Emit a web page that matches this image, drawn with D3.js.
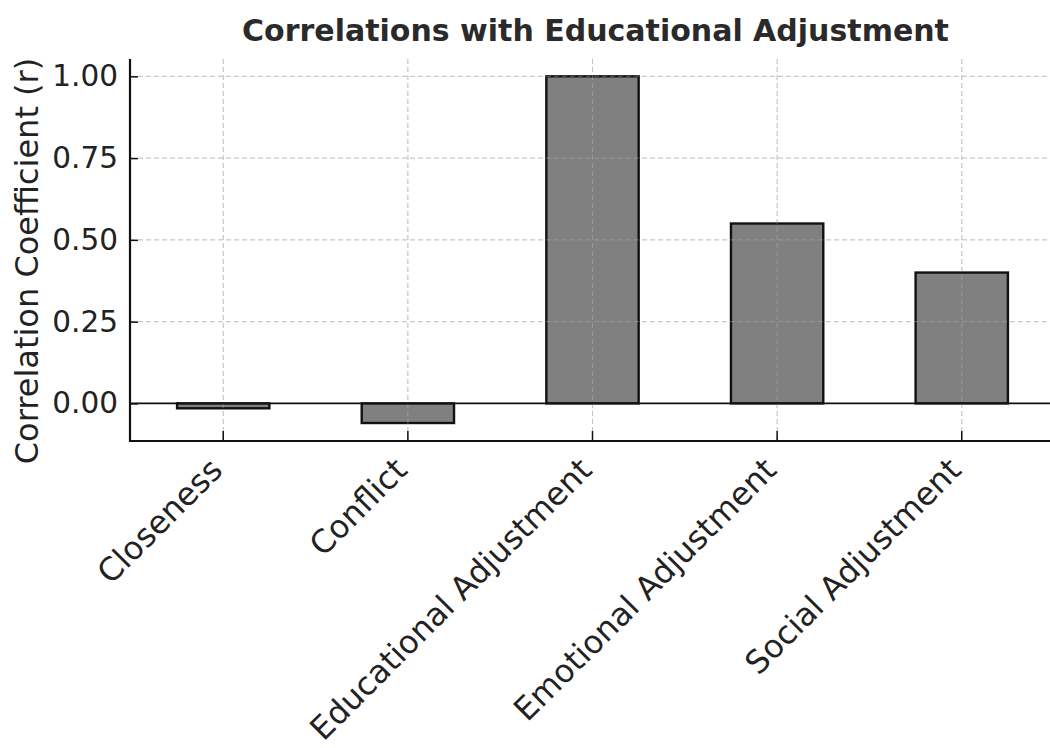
<!DOCTYPE html>
<html>
<head>
<meta charset="utf-8">
<script src="https://cdn.jsdelivr.net/npm/d3@7/dist/d3.min.js"></script>
<style>
  html, body { margin: 0; padding: 0; background: #fff; }
  svg { display: block; font-family: "DejaVu Sans", sans-serif; }
</style>
</head>
<body>
<svg id="chart" width="1050" height="748"></svg>
<script>
const categories = ["Closeness", "Conflict", "Educational Adjustment", "Emotional Adjustment", "Social Adjustment"];
const values = [-0.015, -0.06, 1.0, 0.55, 0.40];
const yTicks = [0, 0.25, 0.5, 0.75, 1.0];
const title = "Correlations with Educational Adjustment";
const yLabel = "Correlation Coefficient (r)";

(function () {
const svg = d3.select("#chart");
const pL = 130, pR = 1055, pT = 59, pB = 441;

const x = d3.scaleBand().domain(categories).range([pL, pR]).paddingInner(0.5).paddingOuter(0.255);
const y = d3.scaleLinear().domain([-0.115, 1.053]).range([pB, pT]);

svg.append("defs").append("clipPath").attr("id", "plotclip")
  .append("rect").attr("x", pL).attr("y", pT).attr("width", pR - pL).attr("height", pB - pT);

const plot = svg.append("g").attr("clip-path", "url(#plotclip)");

// grid
plot.selectAll("line.gy").data(yTicks).join("line")
  .attr("x1", pL).attr("x2", pR)
  .attr("y1", d => y(d)).attr("y2", d => y(d))
  .attr("stroke", "#c8c8c8").attr("stroke-width", 1).attr("stroke-dasharray", "5,3");
plot.selectAll("line.gx").data(categories).join("line")
  .attr("x1", d => x(d) + x.bandwidth() / 2).attr("x2", d => x(d) + x.bandwidth() / 2)
  .attr("y1", pT).attr("y2", pB)
  .attr("stroke", "#c8c8c8").attr("stroke-width", 1).attr("stroke-dasharray", "5,3");

// bars
plot.selectAll("rect.bar").data(values).join("rect")
  .attr("class", "bar")
  .attr("x", (d, i) => x(categories[i]))
  .attr("width", x.bandwidth())
  .attr("y", d => y(Math.max(0, d)))
  .attr("height", d => Math.abs(y(d) - y(0)))
  .attr("fill", "#808080")
  .attr("stroke", "#111").attr("stroke-width", 2.4);

// gridlines faintly visible over bars
plot.selectAll("line.gx2").data(categories).join("line")
  .attr("x1", d => x(d) + x.bandwidth() / 2).attr("x2", d => x(d) + x.bandwidth() / 2)
  .attr("y1", pT).attr("y2", pB)
  .attr("stroke", "#bbbbbb").attr("stroke-opacity", 0.4).attr("stroke-width", 1).attr("stroke-dasharray", "5,3");
plot.selectAll("line.gy2").data(yTicks).join("line")
  .attr("x1", pL).attr("x2", pR)
  .attr("y1", d => y(d)).attr("y2", d => y(d))
  .attr("stroke", "#bbbbbb").attr("stroke-opacity", 0.4).attr("stroke-width", 1).attr("stroke-dasharray", "5,3");

// zero line
plot.append("line").attr("x1", pL).attr("x2", pR)
  .attr("y1", y(0)).attr("y2", y(0)).attr("stroke", "#111").attr("stroke-width", 1.8);

// axes
const yAxis = d3.axisLeft(y).tickValues(yTicks).tickFormat(d3.format(".2f")).tickSizeInner(-8).tickSizeOuter(0).tickPadding(12);
const gy = svg.append("g").attr("transform", `translate(${pL},0)`).call(yAxis);
gy.select(".domain").remove();
gy.selectAll(".tick line").attr("stroke", "#111").attr("stroke-width", 1.5);
gy.selectAll(".tick text").attr("font-size", 29.5).attr("fill", "#222").attr("font-family", "DejaVu Sans");

const xAxis = d3.axisBottom(x).tickSizeInner(-10).tickSizeOuter(0).tickFormat("");
const gx = svg.append("g").attr("transform", `translate(0,${pB})`).call(xAxis);
gx.select(".domain").remove();
gx.selectAll(".tick line").attr("stroke", "#111").attr("stroke-width", 1.5);

// spines
svg.append("line").attr("x1", pL).attr("x2", pL).attr("y1", pT).attr("y2", pB + 1)
  .attr("stroke", "#111").attr("stroke-width", 2.2);
svg.append("line").attr("x1", pL - 1).attr("x2", pR).attr("y1", pB).attr("y2", pB)
  .attr("stroke", "#111").attr("stroke-width", 2.2);

// x labels
svg.append("g").selectAll("text").data(categories).join("text")
  .attr("transform", d => `translate(${x(d) + x.bandwidth() / 2 + 1},${pB + 31}) rotate(-45)`)
  .attr("text-anchor", "end")
  .attr("font-size", 32).attr("fill", "#222")
  .text(d => d);

// title
svg.append("text").attr("x", 595.5).attr("y", 41).attr("text-anchor", "middle")
  .attr("font-size", 30).attr("font-weight", "bold").attr("fill", "#2a2a2a").text(title);

// y label
svg.append("text").attr("transform", `translate(38,261) rotate(-90)`)
  .attr("text-anchor", "middle").attr("font-size", 32).attr("fill", "#222").text(yLabel);
})();
</script>
</body>
</html>
